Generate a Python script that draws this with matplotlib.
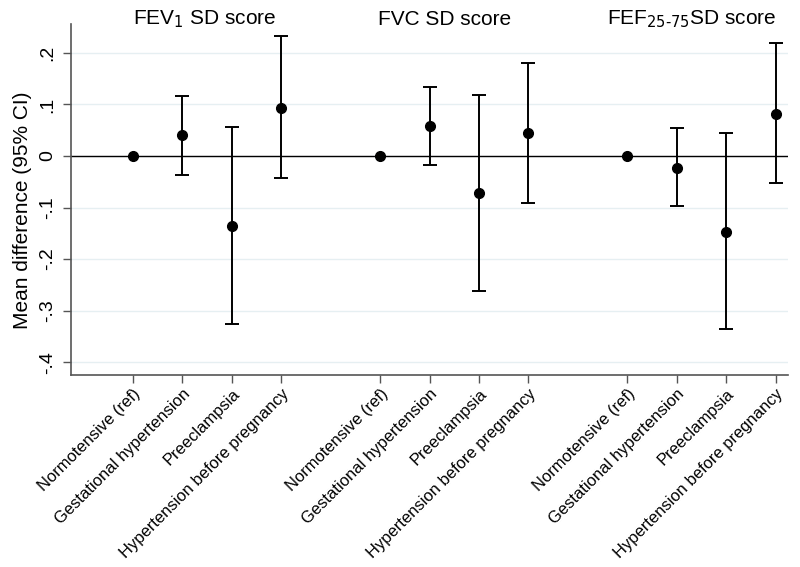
import matplotlib
matplotlib.use("Agg")
import matplotlib.pyplot as plt
import numpy as np

plt.rcParams['font.family'] = ['Liberation Sans', 'DejaVu Sans']

categories = ["Normotensive (ref)", "Gestational hypertension", "Preeclampsia",
              "Hypertension before pregnancy"]
outcomes = ["FEV$_1$ SD score", "FVC SD score", "FEF$_{25\\text{-}75}$SD score"]

fev1_est = [0.0, 0.040, -0.135, 0.094]
fev1_lo = [0.0, -0.037, -0.326, -0.043]
fev1_hi = [0.0, 0.117, 0.057, 0.232]

fvc_est = [0.0, 0.058, -0.072, 0.045]
fvc_lo = [0.0, -0.018, -0.262, -0.092]
fvc_hi = [0.0, 0.133, 0.118, 0.181]

fef_est = [0.0, -0.023, -0.148, 0.082]
fef_lo = [0.0, -0.098, -0.336, -0.053]
fef_hi = [0.0, 0.054, 0.044, 0.219]

yticks = [-0.4, -0.3, -0.2, -0.1, 0.0, 0.1, 0.2]
ytick_labels = ["-.4", "-.3", "-.2", "-.1", "0", ".1", ".2"]

groups = [(fev1_est, fev1_lo, fev1_hi), (fvc_est, fvc_lo, fvc_hi), (fef_est, fef_lo, fef_hi)]
title_shift = [-0.05, -0.2, -0.2]

fig = plt.figure(figsize=(8, 5.67), dpi=100)
ax = fig.add_axes([0.089, 0.3386, 0.896, 0.619])

grid_color = "#e6eff2"
for yv in yticks:
    ax.axhline(yv, color=grid_color, lw=1.0, zorder=0)
ax.axhline(0, color="black", lw=1.0, zorder=1)

xpos_all = []
xlabels_all = []
for g, (est, lo, hi) in enumerate(groups):
    xs = np.arange(1, 5) + 5 * g
    est = np.array(est); lo = np.array(lo); hi = np.array(hi)
    mask = np.arange(4) > 0
    ax.errorbar(xs[mask], est[mask], yerr=[est[mask] - lo[mask], hi[mask] - est[mask]],
                fmt='none', ecolor='black', elinewidth=1.4, capsize=5, capthick=1.4, zorder=2)
    ax.plot(xs, est, 'o', color='black', ms=7, zorder=3)
    ax.text(xs.mean() + title_shift[g], 0.265, outcomes[g], ha='center', va='center',
            fontsize=15, clip_on=False)
    xpos_all.extend(xs)
    xlabels_all.extend(categories)

ax.set_xlim(-0.25, 14.25)
ax.set_ylim(-0.425, 0.256)
ax.set_yticks(yticks)
ax.set_yticklabels(ytick_labels, rotation=90, va='center', fontsize=14)
ax.set_xticks(xpos_all)
ax.set_xticklabels(xlabels_all, rotation=45, ha='right', rotation_mode='anchor', fontsize=11.9)
ax.set_ylabel("Mean difference (95% CI)", fontsize=15)
ax.yaxis.set_label_coords(-0.055, 0.47)

for s in ['top', 'right']:
    ax.spines[s].set_visible(False)
for s in ['left', 'bottom']:
    ax.spines[s].set_color('#555555')
    ax.spines[s].set_linewidth(1.2)
ax.tick_params(axis='both', color='#555555', length=6, width=1)
ax.tick_params(axis='x', pad=2)
ax.tick_params(axis='y', pad=5)

fig.savefig("out.png", dpi=100, facecolor='white')
